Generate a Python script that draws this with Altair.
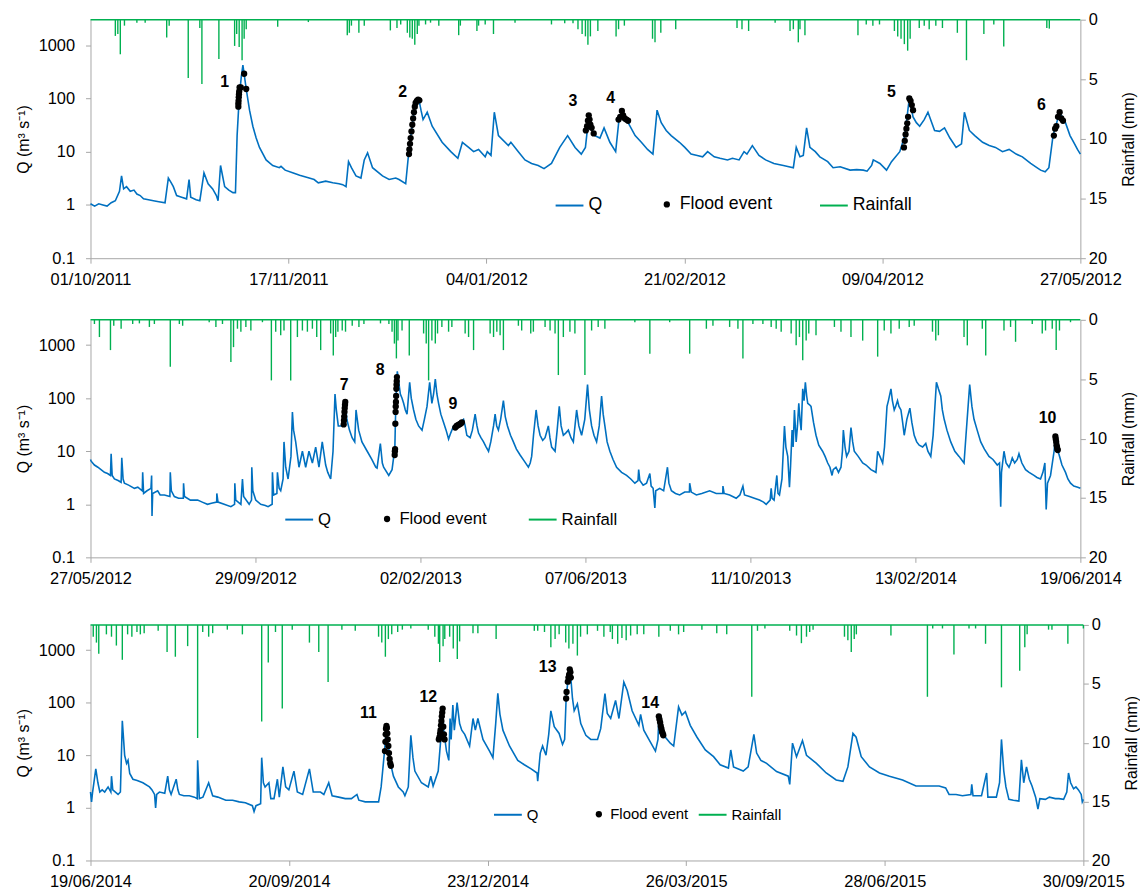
import altair as alt
import pandas as pd
import numpy as np

FONT = "Liberation Sans"
BLUE = "#0070C0"
GREEN = "#00B050"
GRAY = "#A6A6A6"
DAY = 86400000

# ---------------- Panel 1: 01/10/2011 - 27/05/2012 (day offsets from start) ----------------
Q1 = [[0,1.05],[1,0.95],[2,1.05],[3,1.0],[4,0.95],[5,1.1],[6,1.2],[7,1.8],[7.5,3.5],[8,2.0],[8.7,2.2],[9.6,1.8],[10.5,1.9],
      [11.2,1.6],[12,1.5],[12.8,1.3],[14,1.25],[15.2,1.2],[16.5,1.15],[18,1.1],[18.8,3.2],[19.5,2.6],[20,2.2],[20.8,1.5],
      [22,1.4],[23.2,1.3],[23.8,3.0],[24.2,1.4],[25.5,1.25],[26.4,1.2],[27.4,4.0],[28.4,2.5],[29.5,2.0],[30.4,1.5],[30.8,1.2],
      [31.4,5.5],[32.4,2.2],[33.4,1.9],[34.4,1.7],[35,1.7],[35.4,20],[35.9,100],[36.4,250],[36.8,420],[37.6,150],[38.4,60],
      [39.2,30],[40,18],[40.8,12],[42.4,7],[44,5.5],[45.6,5],[46,5.3],[47,4.5],[48.8,4.0],[50.5,3.6],[52.8,3.2],[54,3.0],
      [55,2.6],[56.8,2.8],[58.5,2.6],[60,2.5],[60.9,2.4],[61.7,2.2],[62.3,6.5],[63,5],[64.1,3.5],[65.3,3.2],[66.1,7],[66.9,9.5],
      [68.1,5],[70.5,3.5],[72.1,3.0],[73.7,3.2],[74.5,3.0],[76.1,2.5],[76.8,9],[77.5,24],[78.1,55],[78.7,90],[79.3,95],[79.8,60],
      [80.3,40],[81.3,55],[82.5,30],[84.9,15],[87,10],[88.7,7.5],[89.8,15],[91.3,12],[92.5,10],[93.7,11],[95.3,8],[95.8,10],
      [96.7,8.5],[97.5,55],[98.5,20],[100.9,13],[101.5,15],[103.3,10],[104.9,7],[106.5,6],[108.1,5.5],[109.5,4.8],[111.3,6],
      [113.3,12],[115.2,20],[117,12],[118.5,9],[119.5,12],[120.3,45],[121,26],[121.8,20],[123,18],[124,28],[125.4,15],
      [126.8,10],[127.6,40],[128.3,55],[129.8,35],[131.5,20],[133,15],[134.5,11],[135.8,9],[136.8,60],[137.8,35],[139,25],
      [140.2,20],[142.2,15],[143.5,12],[145,9],[146.5,8.5],[147.8,8],[149,10],[150.6,8],[152,7.5],[153.8,7],[155,7.5],
      [156.6,7],[157.8,10],[158.5,9],[159.8,13],[161.4,8.5],[163,7],[165,6],[167.3,5.5],[169.7,5],[170.4,12],[171.3,8],
      [172.1,8.5],[172.9,28],[173.7,12],[175,10],[176.1,8],[178,6.5],[179.3,5],[181,5.2],[183.4,4.5],[185,4.6],[186.6,4.5],
      [187.5,4.3],[188.6,5.5],[189,7],[190.6,6],[192.2,4.5],[193.4,6.5],[195.4,10],[196.6,20],[197.7,100],[198.6,45],
      [199.4,35],[200.2,30],[201.3,40],[202.2,55],[203.8,25],[205,24],[206.2,28],[207.5,18],[209,12],[210.3,14],[211,55],
      [212.2,25],[213.5,20],[215.4,15],[217,13],[218.5,12],[220.2,10],[221.8,11],[223.5,9],[225,8],[227,6],[228.5,5],
      [229.4,4.5],[230.5,4.2],[231.4,5],[232.4,20],[234.0,55],[235.4,35],[236.5,20],[237.4,15],[238.3,11],[239,9]]
E1 = [[35.7,70],[35.7,80],[35.75,90],[35.8,105],[35.85,120],[35.9,135],[36.0,160],[36.3,160],[37.1,290],[37.6,150],
      [76.9,9],[77.0,11],[77.15,14],[77.3,18],[77.5,24],[77.7,32],[77.9,42],[78.1,55],[78.3,70],[78.5,82],[78.8,90],[79.1,95],[79.4,92],
      [119.6,25],[119.9,30],[120.1,38],[120.3,48],[120.5,40],[120.7,32],[121.0,28],[121.5,22],
      [127.5,40],[127.9,45],[128.3,58],[128.6,48],[129.0,42],[129.4,40],[129.8,38],
      [196.4,12],[196.6,16],[196.8,21],[197.0,27],[197.2,34],[197.4,45],[197.7,100],[198.0,90],[198.3,75],[198.6,60],
      [232.6,20],[232.9,27],[233.2,30],[233.6,45],[234.0,55],[234.4,42],[234.8,38]]
L1 = [[32.4,203,"1"],[75.4,133,"2"],[116.5,90,"3"],[125.6,102,"4"],[193.4,133,"5"],[229.6,76,"6"]]
R1 = [[6.0,1.36],[6.6,1.2],[7.2,2.9],[8.2,0.5],[11.2,0.25],[13.2,0.25],[18.4,1.5],[19.0,0.5],[23.6,4.9],[26.4,0.7],
      [26.9,5.4],[31.0,3.3],[34.8,2.2],[35.3,1.2],[35.9,2.3],[36.6,3.4],[37.1,1.6],[37.6,0.8],[45.2,0.6],[52.6,0.2],
      [62.0,1.3],[62.5,1.1],[63.0,0.5],[64.8,1.1],[66.1,0.5],[72.4,0.9],[74.0,0.7],[74.9,0.4],[76.5,1.1],[77.1,1.5],
      [77.7,1.6],[78.3,2.1],[78.9,1.2],[79.3,0.5],[80.9,0.4],[82.1,0.25],[84.1,0.5],[88.9,1.3],[89.3,0.5],[93.3,0.95],
      [93.7,0.5],[95.3,0.4],[97.3,1.2],[102.5,0.25],[111.3,0.4],[114.5,0.3],[116.5,0.3],[117.7,0.8],[118.7,1.2],[119.5,1.4],
      [120.1,2.1],[120.7,1.4],[122.5,0.95],[126.9,1.4],[127.5,0.8],[128.9,0.5],[135.7,1.6],[136.3,1.9],[137.7,1.1],
      [141.3,0.8],[156.1,0.7],[157.3,0.8],[158.9,0.95],[165.3,0.25],[168.9,0.95],[169.7,0.8],[170.9,1.9],[171.3,0.8],
      [172.5,1.3],[185.3,1.3],[187.3,0.4],[188.9,0.5],[190.5,0.4],[194.1,0.95],[194.9,1.4],[195.7,1.6],[196.5,2.05],
      [197.3,2.6],[197.9,1.6],[200.1,0.7],[201.3,0.5],[202.5,0.8],[204.1,0.5],[205.7,0.7],[209.3,1.1],[211.5,3.4],
      [215.7,1.2],[218.1,0.4],[220.5,2.25],[230.9,0.7],[231.5,0.75]]

# ---------------- Panel 2: 27/05/2012 - 19/06/2014 ----------------
Q2 = [[0,7],[0.5,6.5],[3,5.5],[5.6,5],[8,4.5],[10.6,4],[13,3.8],[15.2,3.5],[15.7,9],[16.5,3.5],[18.2,3],[21,2.8],[23.3,2.6],
      [23.8,7.5],[24.8,3],[25.8,2.5],[29,2.3],[33.4,2.0],[36,2.1],[39.4,1.8],[39.7,4],[40.4,1.6],[43,1.8],[46,2.0],[46.5,3.5],
      [46.8,0.6],[47.3,1.6],[51.1,1.8],[53,1.5],[56.2,1.5],[60.4,1.4],[60.7,4],[61.5,1.8],[63.8,1.4],[67,1.3],[70.6,1.3],
      [70.8,2.5],[71.5,1.4],[76,1.2],[81.5,1.2],[85,1.1],[89,1.0],[92,1.05],[96,1.1],[96.1,1.6],[97,1.1],[101.7,1.0],
      [106.8,0.9],[109.6,1.0],[109.8,2.5],[110.5,1.2],[114.4,1.0],[115.6,3],[116.5,1.4],[120.7,1.0],[122.5,1.2],[122.7,5],
      [123.5,1.8],[125.7,1.2],[129.5,1.0],[133,0.95],[135.1,0.9],[138.2,1.0],[138.4,4],[139.3,1.5],[141.8,1.6],[142.2,4],
      [143.5,2.0],[144.7,1.8],[146.5,3],[147.2,15],[148.5,5],[150.3,3],[152.5,8],[153.6,55],[154.5,25],[156.1,15],[158.6,5],
      [161.2,10],[163.7,5],[166.2,10],[168.8,6],[171.3,12],[173.8,5],[176.3,15],[178.9,5.5],[180.5,4],[182.7,3],[184.5,10],
      [186,120],[187,60],[188.5,30],[190.5,30],[192.6,32],[193.8,85],[195,40],[197,25],[199,18],[201,15],[202,60],[204,25],
      [206.5,15],[210.5,10],[214,7],[217,5],[218,4.8],[220.5,14],[222,6],[223,5],[226.9,3.5],[229.4,4.5],[230.7,8],[231.4,8.5],
      [232,40],[232.8,180],[233.4,320],[234.5,200],[235.7,120],[237,100],[238.2,80],[239.5,60],[240.8,50],[242.8,200],
      [244,100],[245.8,60],[247.5,40],[249.6,30],[252.2,25],[254,40],[256,70],[258,200],[259.7,80],[261,120],[262.3,230],
      [263.5,120],[264.8,80],[266.5,50],[268.6,35],[270.5,25],[272.4,17],[274,22],[276.2,30],[278,29],[280,32],[282,36],
      [283.8,40],[285,30],[286.3,20],[288.8,18],[290.5,25],[292.6,50],[294,30],[295.2,22],[297,18],[299,15],[301,12],
      [302.8,10],[304.5,15],[306.6,30],[307.8,50],[309,30],[310.3,25],[312,40],[314.1,90],[315.5,45],[317.2,30],[319.5,20],
      [321.7,15],[324,11],[326.8,8.5],[330,6.5],[333.1,5],[334.5,6],[335.6,8],[337,20],[339,60],[340.5,30],[342,20],
      [344,16],[345.8,18],[348.3,30],[349.5,18],[350.8,12],[353.4,10],[355,25],[356.6,70],[358,30],[359.7,20],[361.5,22],
      [363.5,25],[365.5,18],[367.3,15],[369.8,60],[371.5,30],[373.6,20],[376,40],[378.1,180],[379.5,60],[381.2,30],
      [383,20],[385,15],[387,30],[388.8,110],[390,50],[391.3,30],[393,15],[395.1,10],[397.5,7],[400.2,5],[404,4],[407.8,3.5],
      [411,3],[414.1,2.5],[416.5,2.8],[417,4.5],[417.9,2.8],[420.4,2.3],[423,2.5],[425.5,3.8],[426.5,2.2],[428,2.0],
      [429.3,0.85],[430,1.8],[433,2.0],[436,1.8],[438.9,5],[440,2.5],[441.9,1.8],[445,1.6],[448.2,1.5],[452,1.7],[455.6,1.7],
      [455.8,2.5],[457,1.7],[460.9,1.5],[465,1.6],[471,1.8],[476,1.6],[481,1.6],[481.1,2.2],[482,1.6],[486.2,1.5],[491.2,1.3],
      [494,1.5],[496.3,2.2],[497.5,1.5],[501.3,1.4],[505,1.3],[508.9,1.2],[512,1.1],[514,1.0],[517,1.2],[517.8,2],[518.5,1.3],
      [520,1.2],[522.1,3.5],[523,1.6],[524.1,1.5],[526,3],[527.9,30],[529,12],[530.4,8],[531.7,2.1],[532.5,5],[533.7,25],
      [534.5,12],[535.5,60],[536.8,15],[537.8,30],[538.8,80],[539.7,40],[540.6,25],[541.8,150],[542.8,90],[543.8,200],
      [544.8,110],[545.6,80],[547,75],[548.1,70],[550,35],[551.9,20],[554,13],[556.9,10],[558.8,8],[560.8,6],[562.5,5],
      [564.1,3.5],[565,4.5],[567.1,5],[569,4],[570.9,5],[572,10],[572.7,25],[574,12],[575.2,8],[577,10],[578.5,28],
      [579.8,15],[581,10],[584,8],[587.4,6],[590,5.5],[593.7,4.5],[596,4.2],[597.5,4],[598.8,10],[600.5,8],[602.6,6],
      [604,12],[605.9,70],[607,90],[608.9,150],[610,90],[611.4,60],[612.5,70],[613.9,90],[615,70],[616.5,60],[617.8,35],
      [619,20],[621,40],[623.3,65],[624.8,35],[626.6,20],[628.5,15],[630.4,13],[633,12],[635.4,14],[637,10],[639.2,8],
      [641,20],[643.5,200],[645,150],[646.8,110],[648,60],[649.4,40],[651.5,25],[654.4,15],[657.5,10],[660.7,8],[662.5,7],
      [664.5,6],[666,20],[668.8,180],[670.5,70],[672.1,40],[674.5,25],[677.2,15],[680,11],[683.5,8],[686.5,7],[689.8,5.5],
      [691.5,6],[692.4,0.9],[693,4],[694.9,10],[696.5,6],[698.7,5],[700,6],[701.2,7.5],[703,6],[705,7],[706.3,9],[708.5,6],
      [711.3,4.5],[714,4],[717.7,3.5],[720,3.2],[722.7,3],[724.5,4],[726,6],[727,0.8],[728,2.5],[730.3,3.5],[733,10],
      [734.0,19],[735,13],[736.6,9],[739,5.5],[741.7,4],[743.5,3],[745.5,2.5],[748,2.2],[751,2.1],[753,2]]
E2 = [[192.6,32],[192.8,38],[193.0,45],[193.2,55],[193.4,65],[193.6,75],[193.8,85],
      [231.4,8.5],[231.55,10],[231.7,11],[231.9,33],[232.1,55],[232.2,70],[232.35,85],[232.5,110],[232.65,150],[232.8,180],
      [232.95,210],[233.1,250],
      [277.5,28],[278.5,30],[279.5,31],[280.5,32],[281.5,33],[282.5,35],
      [734.0,19],[734.3,17],[734.6,15],[734.9,13],[735.2,12],[735.5,11],[735.8,10.5]]
L2 = [[193,177,"7"],[220.3,337,"8"],[275.7,78,"9"],[728,43,"10"]]
R2 = [[3,0.35],[6.8,1.45],[15.2,2.55],[17.7,0.5],[23.3,0.75],[32.1,0.35],[37.2,0.3],[44.8,0.6],[48.6,0.35],[60.7,3.95],
      [67.6,0.35],[70.1,0.5],[90.3,0.2],[95.4,0.6],[100.4,0.35],[106.8,3.55],[108.8,2.3],[111.8,0.75],[114.4,1.0],[118.2,0.6],
      [122,0.9],[130.8,0.2],[137.6,5.1],[140.9,1.0],[144.7,1.3],[147.2,0.9],[152.3,5.1],[157.4,1.45],[161.2,0.9],[165,1.0],
      [168.8,0.75],[172.1,1.45],[175.1,2.55],[182.7,1.15],[184.7,3.0],[186.5,1.45],[188.2,1.0],[191.5,0.9],[194,1.0],
      [199.1,0.5],[204.2,0.6],[208,0.35],[220.6,0.3],[227,0.35],[229.4,1.0],[231.2,2.0],[232.7,3.25],[233.9,1.75],[237,0.9],
      [242.5,3.0],[253.4,1.15],[255.4,2.0],[257.2,5.1],[259.7,1.75],[262.3,2.0],[264,1.15],[267.3,0.6],[272.4,1.0],
      [274.9,0.6],[285,1.15],[287.6,1.45],[291.4,2.55],[304,1.15],[306.6,1.45],[309.1,1.0],[311.6,1.3],[314.1,2.55],
      [325.5,0.5],[328,0.9],[334.9,1.15],[336.9,1.0],[345.8,0.6],[349.6,0.9],[353.4,1.15],[355.9,4.65],[359.7,1.45],
      [364.7,1.0],[368.5,1.15],[376.1,4.65],[381.2,0.9],[386.2,0.6],[391.3,0.75],[414.1,0.2],[425.5,2.85],[440.6,0.2],
      [455.8,2.85],[468.5,0.75],[473.5,0.5],[486.2,0.6],[492.5,0.75],[496.3,3.25],[503.9,0.35],[511.5,0.35],[517.8,0.6],
      [521.6,0.75],[525.4,1.0],[533,1.15],[536.8,2.15],[539.3,1.45],[541.8,3.4],[544.4,1.75],[546.4,1.15],[551.9,1.3],
      [565.9,0.6],[570.9,1.0],[578.5,1.45],[587.4,1.75],[598.8,3.1],[603.8,0.9],[608.9,1.15],[615.2,0.75],[622.8,0.6],
      [626.6,0.5],[640.5,1.0],[643,1.75],[645,1.3],[664.5,1.45],[667,2.15],[678.4,0.75],[681,3.0],[694.9,0.9],[699.9,0.6],
      [703.7,1.85],[716.4,0.35],[724,1.15],[726.5,0.9],[731.6,0.75],[734.6,2.55],[737.1,0.9],[745.5,0.2]]

# ---------------- Panel 3: 19/06/2014 - 30/09/2015 ----------------
Q3 = [[0,2.0],[0.5,1.3],[1,2.0],[2.5,5.5],[3.5,3],[4.4,2.0],[5.5,2.2],[6.7,2.0],[8.3,2.5],[9.6,2.0],[9.9,4],[10.5,2.2],
      [13,1.8],[14.1,2.0],[15,45],[15.6,20],[16.1,10],[17,7],[17.7,8],[18.5,4.5],[20,3.5],[22,3.3],[24.7,3.0],[27.8,2.5],
      [29,2.2],[30.2,1.8],[30.7,1.0],[31.2,1.8],[32.5,2.0],[35,1.9],[36.4,4],[37.2,2.2],[38,1.8],[40.4,3.5],[41.2,2.2],
      [41.9,1.8],[44,1.7],[46.6,1.7],[49,1.6],[50.3,1.5],[50.5,8],[51.3,1.5],[53,1.6],[55.7,3],[57.6,1.7],[60,1.6],[63.8,1.4],
      [67,1.4],[70.1,1.3],[73,1.25],[76.3,1.1],[77.1,0.85],[78,1.1],[80.2,1.2],[80.7,9],[81.5,3],[82.3,2.5],[84.1,3],[85,1.5],
      [86.5,1.5],[88.1,3.5],[89,1.6],[90.7,6],[92,2.5],[93.5,2.2],[95.9,5],[97.5,2],[100,1.8],[103.2,5.5],[105,2],[108.4,2.0],
      [110,1.8],[112.3,3],[113.9,1.7],[117,1.6],[120.1,1.5],[123,1.5],[125.6,1.8],[126.5,1.4],[129.5,1.3],[133,1.3],
      [135.8,1.3],[137,2.5],[138.6,12],[139.5,35],[140.4,15],[141.6,6.5],[142.8,4],[145.1,2.5],[147.4,2.0],[148.2,1.7],
      [149.8,2.5],[151,24],[152,9],[152.9,5],[156,3],[159.2,2.5],[160.4,4],[161.5,2.6],[163.9,5],[165.1,20],[166,75],
      [166.5,30],[167.8,12],[168.9,8],[169.5,50],[170,20],[170.8,90],[171.5,30],[172.8,100],[174,40],[175,30],[176.4,25],
      [178.7,15],[180.3,50],[181.4,30],[182.6,50],[185,20],[188.1,12],[189.7,9],[191,40],[192,150],[193,60],[194.4,30],
      [197.5,15],[201.4,8],[204.5,6.6],[207.7,5.5],[210.5,4.6],[210.8,3.2],[212,11],[213.1,15],[214.7,10],[216,25],[217,70],
      [218.6,35],[220.9,26],[222.5,16],[223.5,20],[224.2,120],[225,250],[225.9,430],[226.4,300],[227.2,120],[228,70],
      [229.5,95],[231.1,40],[233.5,24],[235.8,20],[239,20],[240.5,32],[242.5,148],[243.6,62],[245.2,50],[247.5,110],
      [249.1,50],[251.4,245],[253,170],[255.3,70],[258.5,37],[259.3,60],[260.8,30],[263.2,20],[266.3,12],[267.5,20],
      [267.9,55],[269,32],[270.2,24],[273.3,17],[274.9,15],[277.2,83],[278.8,58],[280.4,67],[282.7,37],[285.9,22],
      [289.8,12.6],[293.7,9.4],[296.8,6.6],[300.7,5.7],[301.8,12.6],[303.1,6],[307.7,5],[310,6],[312.7,25],[314,11],[316,8],
      [318.7,7],[323.4,4.9],[328.9,4],[329.6,2.8],[330.9,17],[332.8,9.4],[335.6,19],[337.5,10],[342.2,7],[346.8,4.6],
      [351.5,3.4],[354.7,3.2],[357,6],[359.4,26],[360.9,22],[363.3,9.4],[367.2,6],[371.9,4.6],[376.6,4],[382.8,3.4],
      [389.1,2.6],[395.3,2.6],[400,2.6],[403.1,2.4],[404.7,1.8],[408,1.8],[411,1.7],[415,1.8],[415.4,2.8],[416,1.7],
      [420,1.7],[422.4,4.6],[423,1.6],[427,1.6],[428.5,3],[429.4,20],[430.5,5],[431.5,2.5],[432.9,1.45],[435,1.4],
      [437.6,1.35],[438.8,8.2],[439.9,3],[441.2,6],[442.5,3.5],[443.8,2.6],[445.5,1.6],[446.6,0.95],[447.5,1.5],[450.1,1.45],
      [452,1.6],[454.8,1.5],[456.5,1.5],[458.7,1.45],[460.2,2],[461,4.6],[462,3],[463.4,2.3],[464.5,2.5],[465.7,2.2],
      [467,1.8],[467.5,1.3],[468,1.45]]
E3 = [[138.8,12],[139.0,18],[139.15,25],[139.3,32],[139.5,36],[139.7,33],[139.9,26],[140.1,20],[140.4,15],[140.7,11],
      [141.0,8.5],[141.3,7],[141.6,6.3],
      [164.2,20],[164.5,22],[164.8,26],[165.0,30],[165.2,37],[165.4,45],[165.6,55],[165.8,65],[166.0,77],[166.3,35],
      [166.6,25],[166.9,20],
      [224.2,120],[224.4,160],[225.0,250],[225.3,300],[225.6,340],[225.9,430],[226.2,380],[226.4,300],
      [267.9,55],[268.2,48],[268.5,42],[268.8,36],[269.1,32],[269.4,28],[269.7,26],[270.0,24]]
L3 = [[131,64,"11"],[159.2,129,"12"],[215.5,480,"13"],[263.8,100,"14"]]
R3 = [[1.3,1.0],[2.8,1.5],[3.9,2.45],[7.5,0.8],[9.9,1.0],[12.2,1.75],[15,2.96],[17.5,0.8],[19.5,1.0],[21.9,0.6],
      [23.5,0.8],[25.3,0.7],[31.9,0.5],[36.1,2.3],[40,2.7],[45.8,1.8],[50.5,9.6],[52.9,0.6],[55.7,1.0],[57.6,0.7],[64.5,0.4],
      [71.6,0.8],[80.7,8.2],[83.8,3.2],[87.2,0.6],[90.4,7.1],[95.1,0.4],[103.2,1.5],[107.6,2.3],[112,4.85],[118.5,0.4],
      [124.8,0.5],[135.8,1.0],[137.3,1.5],[139,2.7],[140.4,1.2],[142,0.8],[144.8,0.6],[147,0.4],[151,0.3],[159.2,0.4],
      [162.3,1.0],[164,1.6],[164.6,3.15],[166.2,1.8],[167,1.2],[169.3,1.0],[171,2.0],[172.9,2.9],[174,1.4],[180.3,0.7],
      [182.6,0.7],[191.2,1.2],[209.2,0.5],[210.8,0.5],[214,0.6],[217,1.9],[219,1.2],[220.9,0.8],[224,1.5],[225.5,2.0],
      [227.4,1.6],[229.5,2.6],[231,1.0],[234.2,0.8],[239,0.5],[242,1.0],[245,0.6],[246,1.2],[248.5,1.6],[250.5,1.1],
      [252.5,1.3],[254.6,0.9],[257.7,0.8],[260.8,0.8],[267.9,1.0],[273.3,0.5],[277.2,0.8],[279.6,0.6],[288.2,0.4],
      [295.2,0.7],[299.9,0.8],[311.7,6.1],[314.4,0.5],[317.9,0.3],[329.6,0.5],[332.8,0.9],[335.1,1.55],[337.5,1.0],
      [339,0.6],[340.6,0.4],[355.4,1.0],[357,1.3],[358.6,2.3],[360,1.2],[361,0.8],[377.3,0.9],[394.5,6.1],[397,0.3],
      [401.6,0.3],[407,2.5],[414.1,0.3],[417.2,0.3],[421.9,1.6],[429.4,5.3],[438,3.9],[440.4,1.9],[441.5,0.8],[451.6,0.4],
      [453.2,0.4],[460.7,1.6],[468,0.3]]

Q_TICKS = [0.1, 1, 10, 100, 1000]
R_TICKS = [0, 5, 10, 15, 20]


def ms(s):
    return int(pd.Timestamp(s, tz="UTC").value // 10**6)


def frame(pairs, start, col):
    a = np.array([p[:2] for p in pairs], dtype=float)
    return pd.DataFrame({"t": ms(start) + a[:, 0] * DAY, col: a[:, 1]})


def leg(x, y, fs, **kw):
    return alt.Legend(title=None, orient="none", legendX=x, legendY=y, labelFont=FONT,
                      labelFontSize=fs, labelColor="black", labelOffset=4, **kw)


def panel(start, end, n, q, ev, labs, rain, w, h, lx, fs):
    s0, s1 = ms(start), ms(end)
    ticks = [s0 + k * (s1 - s0) / n for k in range(n + 1)]
    X = alt.X("t:T", scale=alt.Scale(type="utc", domain=[s0, s1]),
              axis=alt.Axis(values=ticks, labelExpr="utcFormat(datum.value, '%d/%m/%Y')", title=None,
                            tickSize=5, labelPadding=8, labelFlush=False, labelOverlap=False, grid=False))
    YQ = alt.Y("q:Q", scale=alt.Scale(type="log", domain=[0.1, 3000], nice=False),
               axis=alt.Axis(values=Q_TICKS, labelExpr="datum.value < 1 ? '0.1' : format(datum.value, 'd')",
                             title="Q (m³ s⁻¹)", tickSize=5, labelPadding=11, titlePadding=7, grid=False))
    YR = alt.Y("r:Q", scale=alt.Scale(domain=[0, 20], reverse=True, nice=False),
               axis=alt.Axis(orient="right", values=R_TICKS, title="Rainfall (mm)", titleAngle=270,
                             titleBaseline="top", tickSize=5, labelPadding=3, titlePadding=14, grid=False))
    qdf = frame(q, start, "q"); qdf["s"] = "Q"
    edf = frame(ev, start, "q"); edf["s"] = "Flood event"
    ldf = frame(labs, start, "q"); ldf["lab"] = [p[2] for p in labs]
    rdf = frame(rain, start, "r"); rdf["r0"] = 0.0; rdf["s"] = "Rainfall"
    bdf = pd.DataFrame({"r": [0.0]})

    line = alt.Chart(qdf).mark_line(strokeWidth=1.6).encode(
        x=X, y=YQ,
        color=alt.Color("s:N", scale=alt.Scale(domain=["Q"], range=[BLUE]),
                        legend=leg(lx[0], lx[3], fs, symbolType="stroke", symbolSize=784, symbolStrokeWidth=2)))
    pts = alt.Chart(edf).mark_point(filled=True, size=40, color="black", opacity=1).encode(
        x=X, y=YQ,
        shape=alt.Shape("s:N", scale=alt.Scale(domain=["Flood event"], range=["circle"]),
                        legend=leg(lx[1], lx[4], fs, symbolSize=40, symbolFillColor="black",
                                   symbolStrokeColor="black")))
    txt = alt.Chart(ldf).mark_text(font=FONT, fontSize=16, fontWeight="bold", color="black").encode(
        x=X, y=YQ, text="lab:N")
    rules = alt.Chart(rdf).mark_rule(strokeWidth=1.4).encode(
        x=X, y=YR, y2=alt.Y2("r0"),
        stroke=alt.Stroke("s:N", scale=alt.Scale(domain=["Rainfall"], range=[GREEN]),
                          legend=leg(lx[2], lx[3], fs, symbolType="stroke", symbolSize=784, symbolStrokeWidth=2)))
    base = alt.Chart(bdf).mark_rule(color=GREEN, strokeWidth=1.5).encode(y=YR)
    left = alt.layer(line, pts, txt)
    right = alt.layer(rules, base)
    return alt.layer(left, right).resolve_scale(y="independent").properties(width=w, height=h)


RES = dict(color="independent", shape="independent", stroke="independent", x="independent", y="independent")

p1 = panel("2011-10-01", "2012-05-27", 5, Q1, E1, L1, R1, 996, 240, [467, 571, 733, 172, 177], 17.8)
p2 = panel("2012-05-27", "2014-06-19", 6, Q2, E2, L2, R2, 996, 239, [195, 290, 440, 186, 192], 16.8)
p3 = panel("2014-06-19", "2015-09-30", 5, Q3, E3, L3, R3, 999, 237, [405, 504, 611, 176, 183], 15)

top = alt.vconcat(p1, p2, spacing=24).resolve_scale(**RES)
chart = alt.vconcat(top, p3, spacing=30).resolve_scale(**RES).properties(
    padding={"left": 7, "top": 1, "right": 0, "bottom": 5}
).configure_axis(
    labelFont=FONT, titleFont=FONT, labelFontSize=16.5, titleFontSize=16, labelColor="black",
    titleColor="black", titleFontWeight="normal", domainColor=GRAY, tickColor=GRAY, grid=False
).configure_view(stroke=None)

chart.save("out.html", embed_options={"renderer": "svg", "actions": False})
